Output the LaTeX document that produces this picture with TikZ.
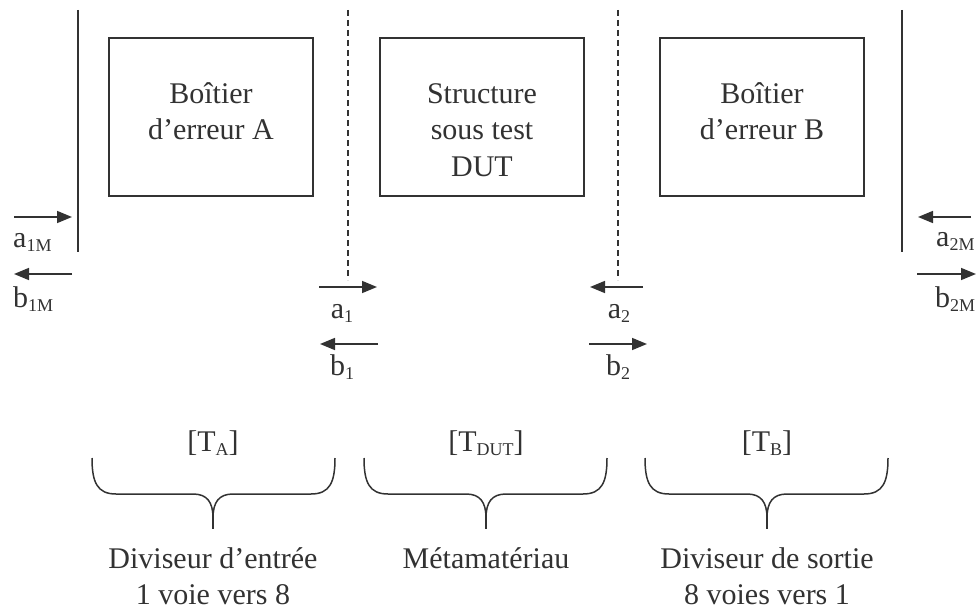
\documentclass[tikz,border=0pt]{standalone}
\usepackage{fontspec}
\setmainfont{Liberation Serif}
\usetikzlibrary{arrows.meta}

\definecolor{ink}{RGB}{50,50,50}
% small lowered index, as in a_1M
\newcommand\ind[1]{\raisebox{-4pt}{\fontsize{18}{18}\selectfont #1}}

\begin{document}
\begin{tikzpicture}[x=1pt,y=-1pt,
  every node/.style={text=ink, inner sep=0pt, font=\fontsize{30}{36.5}\selectfont},
  bloc/.style={draw=ink, line width=2pt, minimum width=204pt, minimum height=158pt},
  plan/.style={draw=ink, line width=1.6pt},
  ref/.style={draw=ink, line width=1.5pt, dash pattern=on 6pt off 4pt},
  onde/.style={draw=ink, line width=1.6pt, -{Triangle[length=15pt,width=12pt]}},
  accol/.style={draw=ink, line width=1.5pt},
  txt/.style={align=center, anchor=base}]
\useasboundingbox (0,0) rectangle (977,610);

% the three blocks (base anchor sits on the last line)
\node[bloc] (boiteA) at (211,117) {};
\node[bloc] (dut) at (482,117) {};
\node[bloc] (boiteB) at (762,117) {};
\node[txt] (tA) at (boiteA |- 0,139.5) {Boîtier\\d’erreur A};
\node[txt] (tDUT) at (dut |- 0,176) {Structure\\sous test\\DUT};
\node[txt] (tB) at (boiteB |- 0,139.5) {Boîtier\\d’erreur B};

% measurement planes and reference planes
\coordinate (m1h) at (78,10);   \coordinate (m1b) at (78,252);
\coordinate (r1h) at (348,10);  \coordinate (r1b) at (348,280);
\coordinate (r2h) at (618,10);  \coordinate (r2b) at (618,280);
\coordinate (m2h) at (902,10);  \coordinate (m2b) at (902,252);
\draw[plan] (m1h) -- (m1b);
\draw[plan] (m2h) -- (m2b);
\draw[ref] (r1h) -- (r1b);
\draw[ref] (r2h) -- (r2b);

% incident and reflected waves
\foreach \n/\xs/\xe/\y in {a1M/14/72/217, b1M/72/14/274, a1/319/377/287, b1/378/320/344,
    a2/643/590/287, b2/589/647/344, a2M/971/918/217, b2M/917/976/274} {
  \coordinate (\n-s) at (\xs,\y);
  \coordinate (\n-e) at (\xe,\y);
  \draw[onde] (\n-s) -- (\n-e);
}
\node[anchor=base west] (la1M) at (13,247) {a\ind{1M}};
\node[anchor=base west] (lb1M) at (13,307) {b\ind{1M}};
\node[anchor=base] (la1) at (342,318) {a\ind{1}};
\node[anchor=base] (lb1) at (342,375) {b\ind{1}};
\node[anchor=base] (la2) at (619,318) {a\ind{2}};
\node[anchor=base] (lb2) at (618,375) {b\ind{2}};
\node[anchor=base west] (la2M) at (936,246) {a\ind{2M}};
\node[anchor=base west] (lb2M) at (935,307) {b\ind{2M}};

% braces with the matrices and what they stand for
\foreach \xl/\xc/\xr/\n/\m/\yb/\d in {92/213/335/TA/A/604.5/{Diviseur d’entrée\\1 voie vers 8},
    364/486/607/TDUT/DUT/568/{Métamatériau},
    645/767/888/TB/B/604.5/{Diviseur de sortie\\8 voies vers 1}} {
  \draw[accol] (\xl,458) .. controls (\xl,482) and (\xl+5,494) .. (\xl+24,494)
    -- (\xc-20,494) .. controls (\xc-6,494) and (\xc,502) .. (\xc,518)
    .. controls (\xc,502) and (\xc+6,494) .. (\xc+20,494)
    -- (\xr-24,494) .. controls (\xr-5,494) and (\xr,482) .. (\xr,458);
  \draw[accol] (\xc,514) -- (\xc,529);
  \node[anchor=base] (\n) at (\xc,451) {[T\ind{\m}]};
  \node[txt] (d\n) at (\xc,\yb) {\d};
}
\end{tikzpicture}
\end{document}
